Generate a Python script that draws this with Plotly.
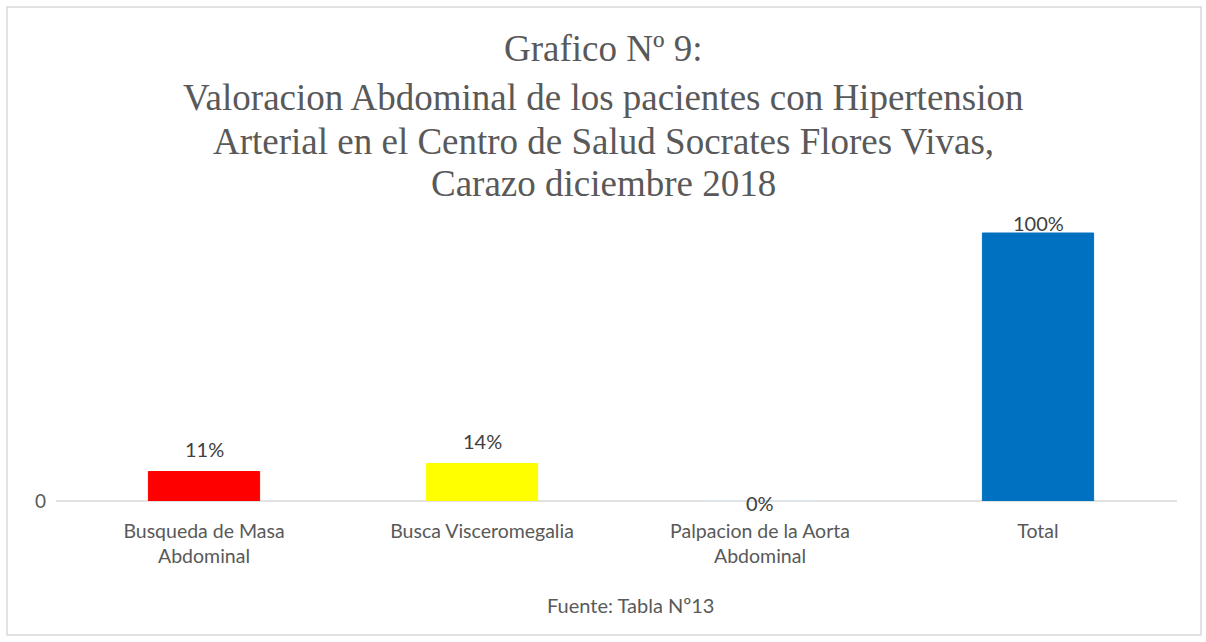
import plotly.graph_objects as go

categories = ["Busqueda de Masa<br>Abdominal", "Busca Visceromegalia",
              "Palpacion de la Aorta<br>Abdominal", "Total"]
values = [0.11, 0.14, 0.0, 1.00]
labels = ["11%", "14%", "0%", "100%"]
colors = ["#FF0000", "#FFFF00", "#DDEBF7", "#0070C0"]
label_shift = [23, 22, -2, 10]

title_lines = ["Grafico Nº 9:",
               "Valoracion Abdominal de los pacientes con Hipertension",
               "Arterial en el Centro de Salud Socrates Flores Vivas,",
               "Carazo diciembre 2018"]
title_y_px = [48, 98, 141, 183]
source_text = "Fuente: Tabla Nº13"

W, H = 1206, 642
L, R, T, B = 65, 29, 215, 141
ph = H - T - B
pw = W - L - R

def py(ypx):
    return (H - B - ypx) / ph

def px(xpx):
    return (xpx - L) / pw

SANS = "Lato, Open Sans, sans-serif"

fig = go.Figure()
fig.add_trace(go.Bar(
    x=categories, y=values, width=0.4,
    marker=dict(color=colors, line=dict(color=colors, width=1)),
    hoverinfo="skip",
))

annotations = []
for c, v, t, s in zip(categories, values, labels, label_shift):
    annotations.append(dict(x=c, y=v, xref="x", yref="y", text=t, showarrow=False,
                            yshift=s, yanchor="middle",
                            font=dict(family=SANS, size=20, color="#404040")))
for line, ypx in zip(title_lines, title_y_px):
    annotations.append(dict(x=px(603), y=py(ypx), xref="paper", yref="paper", text=line,
                            showarrow=False, xanchor="center", yanchor="middle",
                            font=dict(family="Liberation Serif, Times New Roman, serif", size=37, color="#595959")))
annotations.append(dict(x=px(630), y=py(605), xref="paper", yref="paper", text=source_text,
                        showarrow=False, xanchor="center", yanchor="middle",
                        font=dict(family=SANS, size=20, color="#595959")))

shapes = [
    dict(type="rect", xref="paper", yref="paper", x0=px(7), x1=px(1201), y0=py(635), y1=py(7),
         line=dict(color="#D9D9D9", width=1.5), fillcolor="rgba(0,0,0,0)", layer="below"),
    dict(type="line", xref="paper", yref="paper", x0=px(56), x1=px(1177), y0=0, y1=0,
         line=dict(color="#D9D9D9", width=1.5), layer="below"),
]

fig.update_layout(
    width=W, height=H,
    margin=dict(l=L, r=R, t=T, b=B, pad=0),
    paper_bgcolor="white", plot_bgcolor="white",
    showlegend=False, bargap=0.6,
    annotations=annotations, shapes=shapes,
    xaxis=dict(showgrid=False, showline=False, ticks="", zeroline=False,
               ticklabelstandoff=16,
               tickfont=dict(family=SANS, size=19.5, color="#595959")),
    yaxis=dict(range=[0, (H - B - T) / 268], showgrid=False, zeroline=False,
               showline=False, tickvals=[0], ticktext=["0"], ticks="",
               ticklabelstandoff=18,
               tickfont=dict(family=SANS, size=19, color="#595959")),
)

fig.write_html("out.html", config={"displayModeBar": False},
               post_script="document.body.style.margin='0';")
